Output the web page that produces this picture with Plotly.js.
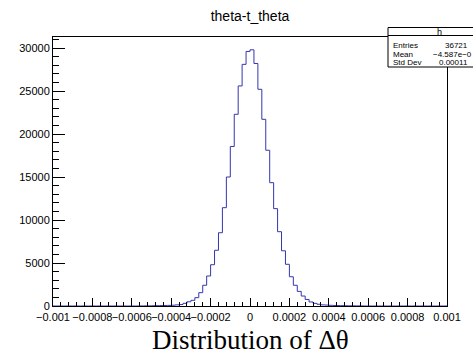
<!DOCTYPE html>
<html>
<head>
<meta charset="utf-8">
<script src="https://cdn.plot.ly/plotly-3.0.1.min.js"></script>
<style>html,body{margin:0;padding:0;background:#fff;overflow:hidden}#chart{width:473px;height:355px}</style>
</head>
<body>
<div id="chart"></div>
<script>
// ---- data ----
const histTitle = "theta-t_theta";
const axisTitle = "Distribution of \u0394\u03b8";
const binLow = -0.001;
const binHigh = 0.001;
const nBins = 100;
const counts = [
  0,0,0,0,0,0,0,0,0,0, 0,0,0,0,0,0,0,0,0,0, 0,0,
  10,15,20,30,40,50,60,70,90,130,170,310,490,660,970,1550,2410,3490,4800,6480,
  8520,11430,15000,18550,22290,25590,28100,29600,29790,28200,25200,21710,18110,14340,
  11320,8640,6420,4850,3400,2410,1700,1160,760,470,310,200,130,110,80,60,50,40,30,25,20,15,10,
  0,0,0,0,0,0,0,0,0,0, 0,0,0,0,0,0,0,0,0,0, 0
];
const xTickVals = [-0.001,-0.0008,-0.0006,-0.0004,-0.0002,0,0.0002,0.0004,0.0006,0.0008,0.001];
const xTickText = ["\u22120.001","\u22120.0008","\u22120.0006","\u22120.0004","\u22120.0002","0","0.0002","0.0004","0.0006","0.0008","0.001"];
const yTickVals = [0,5000,10000,15000,20000,25000,30000];
const yTickText = ["0","5000","10000","15000","20000","25000","30000"];
const statName = "h";
const statLabels = ["Entries","Mean","Std Dev"];
const statValues = ["36721","\u22124.587e\u22120","0.00011"];

// ---- build step outline ----
const w = (binHigh - binLow) / nBins;
const edges = [];
for (let i = 0; i <= nBins; i++) edges.push(binLow + i * w);
const ys = counts.concat([counts[counts.length - 1]]);

// ---- layout geometry helpers (pixels -> paper) ----
const L = 53, R = 447, T = 37, B = 306;
const W = 473, H = 355;
const px = v => (v - L) / (R - L);
const py = v => (B - v) / (B - T);

const sans = "Liberation Sans, Arial, sans-serif";
const statFont = {family: sans, size: 8, color: "#000"};

const annotations = [
  {xref:"paper", yref:"paper", x: px(250), y: py(340), text: axisTitle, showarrow:false,
   xanchor:"center", yanchor:"middle", font:{family:"Liberation Serif, Times New Roman, serif", size:27, color:"#000"}},
  {xref:"paper", yref:"paper", x: px(439), y: py(31.5), text: statName, showarrow:false,
   xanchor:"center", yanchor:"middle", font: {family: sans, size: 9, color: "#000"}}
];
const rowY = [45.5, 54, 62.5];
const valX = [443, 431, 437];
statLabels.forEach((lab, i) => {
  annotations.push({xref:"paper", yref:"paper", x: px(391), y: py(rowY[i]), text: lab, showarrow:false,
    xanchor:"left", yanchor:"middle", font: statFont});
  annotations.push({xref:"paper", yref:"paper", x: px(valX[i]), y: py(rowY[i]), text: statValues[i], showarrow:false,
    xanchor:"left", yanchor:"middle", font: statFont});
});

const bx0 = px(388), bx1 = px(530), by0 = py(67), by1 = py(27.5), bsep = py(35.5);
const shapes = [
  {type:"rect", xref:"paper", yref:"paper", x0: bx0, x1: bx1, y0: by0, y1: by1,
   line:{width:0}, fillcolor:"#fff"},
  {type:"path", xref:"paper", yref:"paper",
   path: `M ${bx1} ${by1} L ${bx0} ${by1} L ${bx0} ${by0} L ${bx1} ${by0}`,
   line:{color:"#000", width:1}},
  {type:"line", xref:"paper", yref:"paper", x0: bx0, x1: bx1, y0: bsep, y1: bsep,
   line:{color:"#000", width:1}}
];

const trace = {
  type: "scatter", mode: "lines", x: edges, y: ys,
  line: {shape: "hv", color: "#3535b0", width: 1},
  hoverinfo: "skip", showlegend: false
};

const layout = {
  width: W, height: H,
  margin: {l: L, r: W - R, t: T, b: H - B, pad: 0},
  paper_bgcolor: "#fff", plot_bgcolor: "#fff",
  title: {text: histTitle, x: px(250), xref: "paper", xanchor: "center",
          y: 1 - 16/H, yref: "container", yanchor: "middle",
          font: {family: sans, size: 14, color: "#000"}},
  xaxis: {range: [binLow, binHigh], tickmode: "array", tickvals: xTickVals, ticktext: xTickText,
          tickangle: 0, ticklabelstandoff: 1,
          ticks: "inside", ticklen: 8, tickwidth: 1, tickcolor: "#000",
          minor: {tickmode: "linear", tick0: 0, dtick: 0.00004, ticks: "inside", ticklen: 4, tickwidth: 1, tickcolor: "#000"},
          showline: true, linecolor: "#000", linewidth: 1, mirror: true,
          showgrid: false, zeroline: false, fixedrange: true,
          tickfont: {family: sans, size: 11, color: "#000"}},
  yaxis: {range: [0, 31280], tickmode: "array", tickvals: yTickVals, ticktext: yTickText,
          ticks: "inside", ticklen: 12, tickwidth: 1, tickcolor: "#000",
          minor: {tickmode: "linear", tick0: 0, dtick: 1000, ticks: "inside", ticklen: 6, tickwidth: 1, tickcolor: "#000"},
          showline: true, linecolor: "#000", linewidth: 1, mirror: true,
          showgrid: false, zeroline: false, fixedrange: true,
          tickfont: {family: sans, size: 11, color: "#000"}},
  annotations: annotations,
  shapes: shapes
};

Plotly.newPlot("chart", [trace], layout, {staticPlot: true, displayModeBar: false});
</script>
</body>
</html>
